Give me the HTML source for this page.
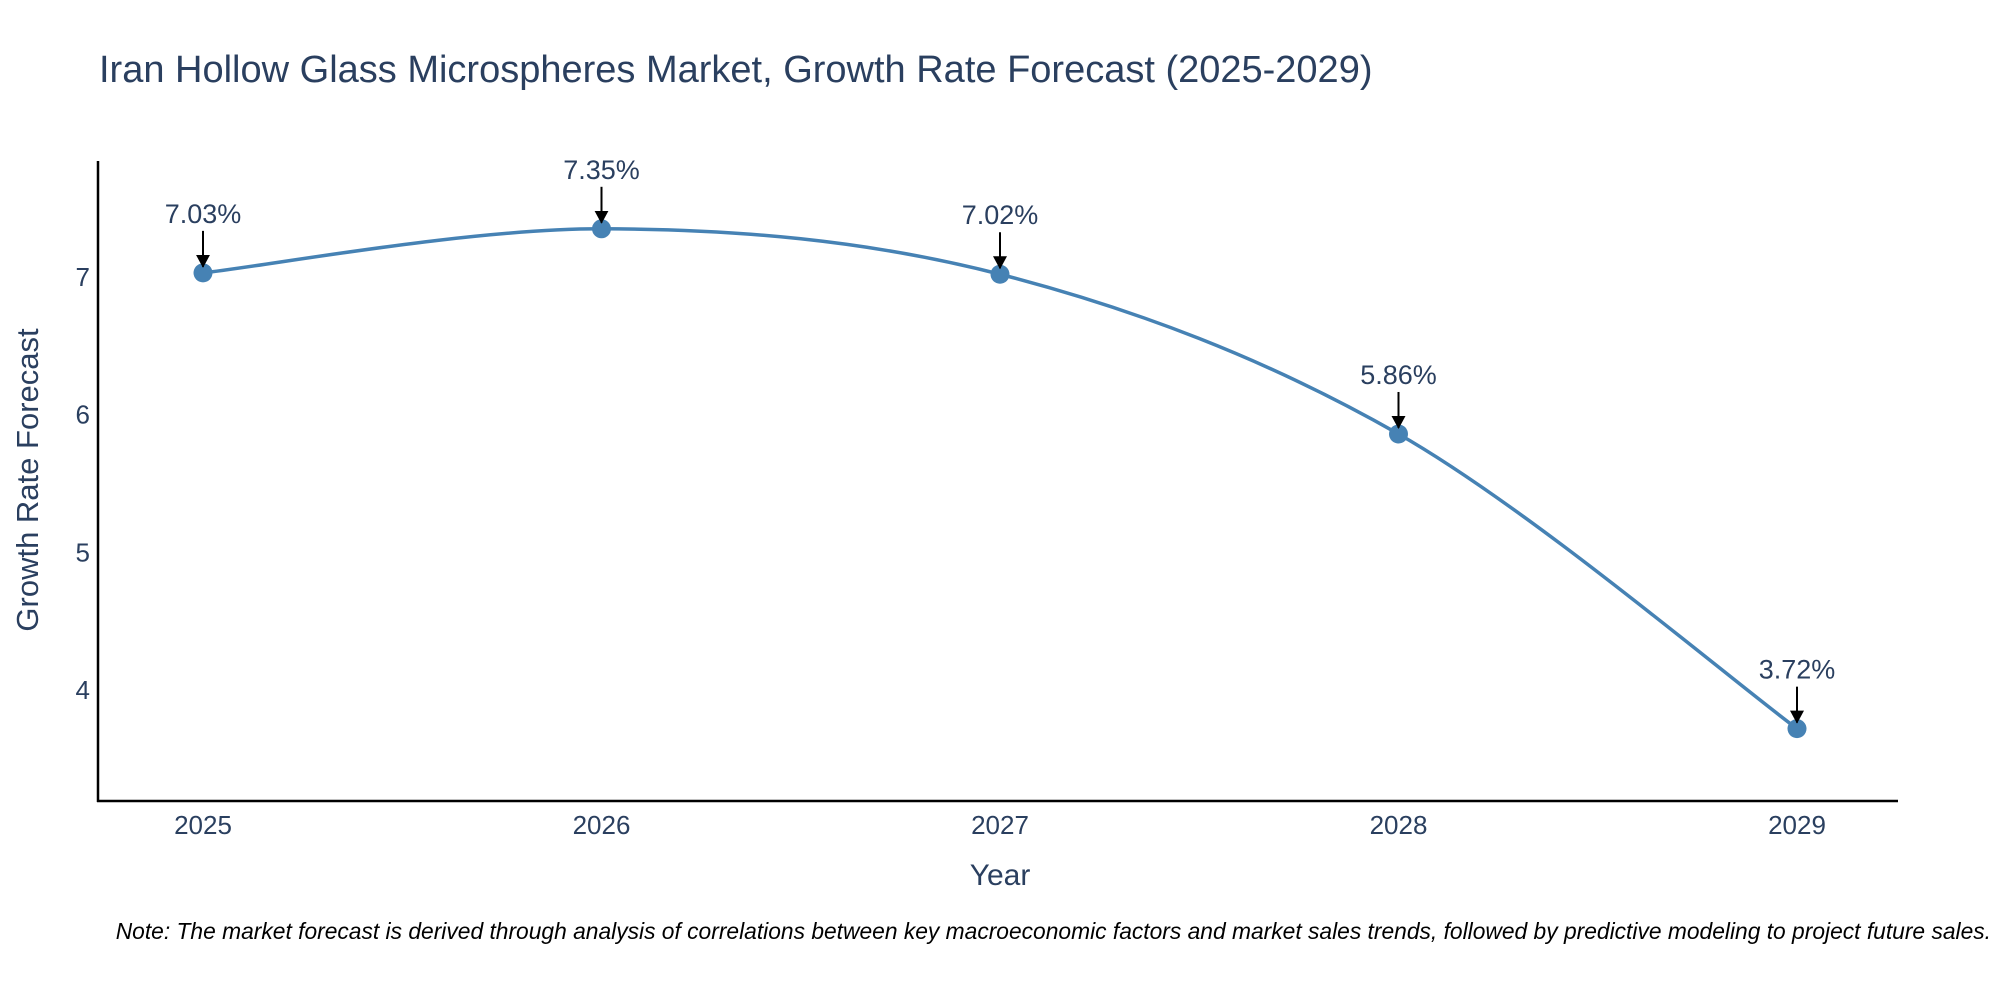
<!DOCTYPE html>
<html><head><meta charset="utf-8"><style>
html,body{margin:0;padding:0;background:#fff;}
svg text{font-family:"Liberation Sans",sans-serif;fill:#2a3f5f;}
</style></head><body>
<svg width="2000" height="1000" xmlns="http://www.w3.org/2000/svg">
<defs><marker id="ah" markerWidth="14" markerHeight="14" refX="12" refY="7" orient="auto" markerUnits="userSpaceOnUse"><path d="M0,0 L13,7 L0,14 z" fill="#000"/></marker></defs>
<text x="99" y="82" font-size="38">Iran Hollow Glass Microspheres Market, Growth Rate Forecast (2025-2029)</text>
<g id="plot"></g>
<text x="1000" y="885" font-size="30" text-anchor="middle">Year</text>
<text transform="translate(38,480) rotate(-90)" font-size="31" text-anchor="middle">Growth Rate Forecast</text>
<text x="1991" y="939" font-size="22.8" font-style="italic" text-anchor="end" style="fill:#000">Note: The market forecast is derived through analysis of correlations between key macroeconomic factors and market sales trends, followed by predictive modeling to project future sales.</text>
</svg>
<script>
const years=[2025,2026,2027,2028,2029];
const values=[7.03,7.35,7.02,5.86,3.72];
const yTicks=[4,5,6,7];
const NS="http://www.w3.org/2000/svg";
const x0=98,x1=1898,yTop=161,yBot=801;
const xs=y=>203+(y-2025)*398.5;
const ys=v=>277+(7-v)*137.7;
const g=document.getElementById('plot');
function mk(t,a){const e=document.createElementNS(NS,t);for(const k in a)e.setAttribute(k,a[k]);g.appendChild(e);return e;}
let e=mk('line',{x1:x0,y1:yTop,x2:x0,y2:yBot+1,stroke:'#000','stroke-width':2.5});


e=mk('line',{x1:x0-1,y1:yBot,x2:x1,y2:yBot,stroke:'#000','stroke-width':2.5});


yTicks.forEach(t=>{const el=mk('text',{x:x0-8,y:ys(t)+9,'font-size':26,'text-anchor':'end'});el.textContent=t;

});
years.forEach(y=>{const el=mk('text',{x:xs(y),y:yBot+33,'font-size':26,'text-anchor':'middle'});el.textContent=y;

});
const P=years.map((y,i)=>[xs(y),ys(values[i])]);
let d='M'+P[0][0]+','+P[0][1];const s=1/6;
for(let i=0;i<P.length-1;i++){const p0=P[Math.max(0,i-1)],p1=P[i],p2=P[i+1],p3=P[Math.min(P.length-1,i+2)];
d+=` C${p1[0]+(p2[0]-p0[0])*s},${p1[1]+(p2[1]-p0[1])*s} ${p2[0]-(p3[0]-p1[0])*s},${p2[1]-(p3[1]-p1[1])*s} ${p2[0]},${p2[1]}`;}
e=mk('path',{d:d,fill:'none',stroke:'#4682b4','stroke-width':3.5});


P.forEach((p,i)=>{const c=mk('circle',{cx:p[0],cy:p[1],r:9.5,fill:'#4682b4'});


const a=mk('line',{x1:p[0],y1:p[1]-42,x2:p[0],y2:p[1]-6,stroke:'#000','stroke-width':2,'marker-end':'url(#ah)'});


const t=mk('text',{x:p[0],y:p[1]-50,'font-size':27,'text-anchor':'middle'});t.textContent=values[i].toFixed(2)+'%';

});
</script>
</body></html>
